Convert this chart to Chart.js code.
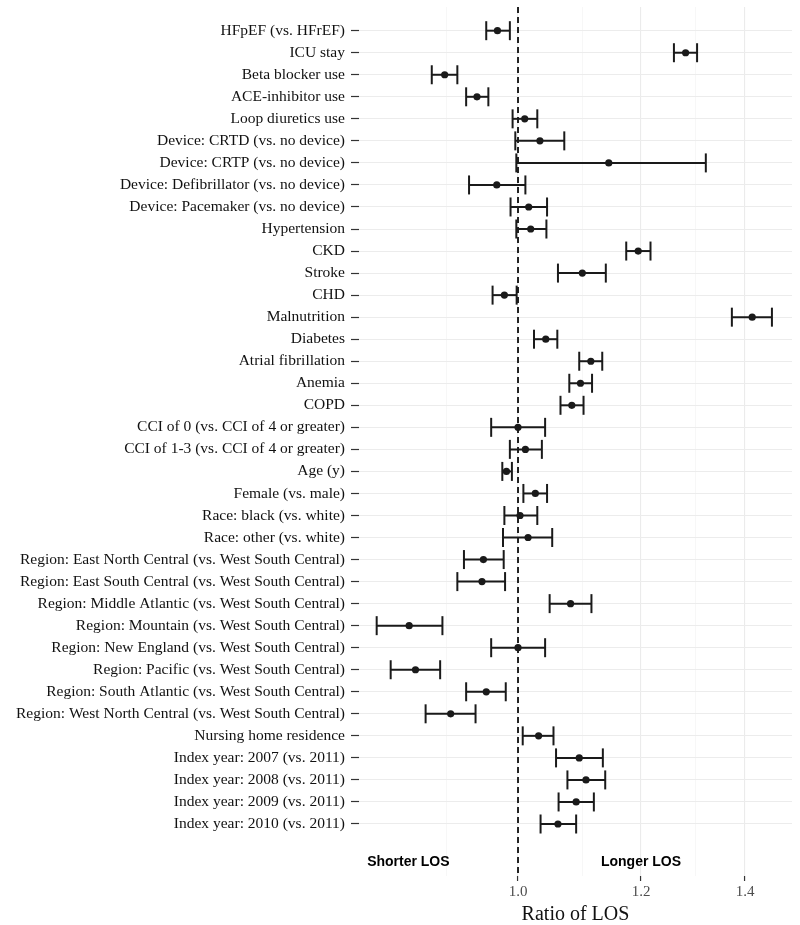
<!DOCTYPE html>
<html>
<head>
<meta charset="utf-8">
<script src="https://cdn.jsdelivr.net/npm/chart.js@4"></script>
<style>
html,body{margin:0;padding:0;background:#fff;}
#wrap{width:800px;height:925px;}
</style>
</head>
<body>
<div id="wrap"><canvas id="chart" width="800" height="925"></canvas></div>
<script>
// ===== DATA =====
const labels = [
  "HFpEF (vs. HFrEF)",
  "ICU stay",
  "Beta blocker use",
  "ACE-inhibitor use",
  "Loop diuretics use",
  "Device: CRTD (vs. no device)",
  "Device: CRTP (vs. no device)",
  "Device: Defibrillator (vs. no device)",
  "Device: Pacemaker (vs. no device)",
  "Hypertension",
  "CKD",
  "Stroke",
  "CHD",
  "Malnutrition",
  "Diabetes",
  "Atrial fibrillation",
  "Anemia",
  "COPD",
  "CCI of 0 (vs. CCI of 4 or greater)",
  "CCI of 1-3 (vs. CCI of 4 or greater)",
  "Age (y)",
  "Female (vs. male)",
  "Race: black (vs. white)",
  "Race: other (vs. white)",
  "Region: East North Central (vs. West South Central)",
  "Region: East South Central (vs. West South Central)",
  "Region: Middle Atlantic (vs. West South Central)",
  "Region: Mountain (vs. West South Central)",
  "Region: New England (vs. West South Central)",
  "Region: Pacific (vs. West South Central)",
  "Region: South Atlantic (vs. West South Central)",
  "Region: West North Central (vs. West South Central)",
  "Nursing home residence",
  "Index year: 2007 (vs. 2011)",
  "Index year: 2008 (vs. 2011)",
  "Index year: 2009 (vs. 2011)",
  "Index year: 2010 (vs. 2011)"
];
const ratio = [0.970,1.282,0.897,0.941,1.010,1.033,1.144,0.969,1.016,1.019,1.195,1.100,0.980,1.415,1.042,1.114,1.097,1.083,1.000,1.011,0.983,1.026,1.003,1.015,0.950,0.948,1.081,0.851,1.000,0.859,0.954,0.905,1.031,1.095,1.106,1.090,1.061];
const lower = [0.954,1.260,0.880,0.926,0.992,0.996,0.9975,0.930,0.989,0.9975,1.174,1.061,0.963,1.373,1.024,1.095,1.079,1.065,0.961,0.988,0.977,1.008,0.980,0.978,0.923,0.914,1.048,0.811,0.961,0.828,0.926,0.872,1.007,1.058,1.076,1.062,1.034];
const upper = [0.988,1.304,0.914,0.957,1.029,1.071,1.321,1.011,1.044,1.043,1.217,1.139,0.998,1.457,1.060,1.133,1.116,1.102,1.041,1.036,0.991,1.044,1.029,1.052,0.979,0.981,1.115,0.894,1.041,0.891,0.982,0.939,1.054,1.134,1.138,1.119,1.090];

const xTicks = [0.9,1.0,1.1,1.2,1.3,1.4];
const xLabelled = [1.0,1.2,1.4];
const refValue = 1.0;

const sideLabels = ["Shorter LOS","Longer LOS"];
const sideX = [0.85,1.2];
const sideRow = 37.72;

// ===== AXIS RANGE =====
const xMin = 0.791, xMax = 1.501;
const yMin = -1.075, yMax = 38.36;

const ink = "#1a1a1a";
const serif = "'Liberation Serif','Times New Roman',serif";

// ===== DATASETS =====
const datasets = [];
labels.forEach((_,i)=>{
  datasets.push({
    data:[{x:lower[i],y:i},{x:upper[i],y:i}],
    showLine:true,borderColor:ink,borderWidth:2,
    pointStyle:'line',pointRotation:90,pointRadius:9.5,
    pointBorderColor:ink,pointBorderWidth:2,order:1
  });
});
datasets.push({
  data:ratio.map((v,i)=>({x:v,y:i})),
  pointRadius:3.6,pointBackgroundColor:ink,pointBorderColor:ink,pointBorderWidth:0,order:0
});
datasets.push({
  data:[{x:refValue,y:yMin},{x:refValue,y:yMax}],
  showLine:true,borderColor:ink,borderWidth:1.9,borderDash:[6,4],pointRadius:0,order:2
});

// ===== SIDE TEXT =====
const sideText = {
  id:'sideText',
  afterDatasetsDraw(chart){
    const {ctx,scales:{x,y}} = chart;
    ctx.save();
    ctx.font = "bold 14px 'Liberation Sans', Arial, sans-serif";
    ctx.fillStyle = "#000";
    ctx.textAlign = "center";
    ctx.textBaseline = "middle";
    sideLabels.forEach((t,i)=>ctx.fillText(t,x.getPixelForValue(sideX[i]),y.getPixelForValue(sideRow)));
    ctx.restore();
  }
};

// ===== CHART =====
const isMajor = c=>xLabelled.includes(c.tick&&c.tick.value);
new Chart(document.getElementById("chart"),{
  type:'scatter',
  data:{datasets},
  options:{
    responsive:false,animation:false,events:[],
    layout:{autoPadding:false,padding:{left:10,right:8,top:7,bottom:0}},
    plugins:{legend:{display:false},tooltip:{enabled:false}},
    scales:{
      x:{
        type:'logarithmic',min:xMin,max:xMax,
        afterBuildTicks:s=>{s.ticks = xTicks.map(v=>({value:v}));},
        afterFit:s=>{s.paddingLeft=0;s.paddingRight=0;},
        border:{display:false},
        grid:{
          color:c=>isMajor(c)?'#ebebeb':'#f4f4f4',
          lineWidth:c=>isMajor(c)?1.1:0.7,
          tickColor:c=>isMajor(c)?'#333':'rgba(0,0,0,0)',
          tickLength:5,tickWidth:1.2
        },
        ticks:{
          autoSkip:false,maxRotation:0,padding:4,color:'#4d4d4d',
          font:{family:serif,size:15,lineHeight:1.0},
          callback:v=>xLabelled.includes(v)?v.toFixed(1):''
        },
        title:{display:true,text:'Ratio of LOS',color:'#111',padding:{top:0,bottom:0},
          font:{family:serif,size:20,lineHeight:1.05}}
      },
      y:{
        type:'linear',reverse:true,min:yMin,max:yMax,
        afterBuildTicks:s=>{s.ticks = labels.map((_,i)=>({value:i}));},
        afterFit:s=>{s.paddingTop=0;s.paddingBottom=0;},
        border:{display:false},
        grid:{color:'#ececec',lineWidth:1,tickColor:'#333',tickLength:8,tickWidth:1.2},
        ticks:{
          autoSkip:false,padding:6,color:'#111',
          font:{family:serif,size:15.5,lineHeight:1.0},
          callback:v=>labels[v]
        }
      }
    }
  },
  plugins:[sideText]
});
</script>
</body>
</html>
